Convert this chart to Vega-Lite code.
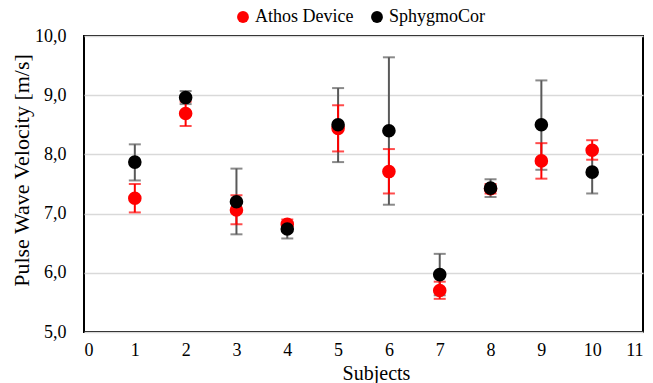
{
  "$schema": "https://vega.github.io/schema/vega-lite/v6.json",
  "width": 559,
  "height": 296,
  "autosize": "none",
  "padding": {"left": 84, "top": 36, "right": 10, "bottom": 51},
  "background": "white",
  "config": {
    "font": "Liberation Serif",
    "view": {"stroke": "black", "strokeWidth": 2},
    "axis": {"labelFont": "Liberation Serif", "titleFont": "Liberation Serif", "labelColor": "black", "titleColor": "black", "labelFontSize": 18, "titleFontSize": 20, "titleFontWeight": "normal", "domain": false, "ticks": false}
  },
  "data": {
    "values": [
      {"subject": 1, "device": "Athos Device", "mean": 7.26, "lo": 7.02, "hi": 7.50},
      {"subject": 1, "device": "SphygmoCor", "mean": 7.87, "lo": 7.56, "hi": 8.17},
      {"subject": 2, "device": "Athos Device", "mean": 8.69, "lo": 8.48, "hi": 8.89},
      {"subject": 2, "device": "SphygmoCor", "mean": 8.96, "lo": 8.85, "hi": 9.07},
      {"subject": 3, "device": "Athos Device", "mean": 7.06, "lo": 6.82, "hi": 7.31},
      {"subject": 3, "device": "SphygmoCor", "mean": 7.20, "lo": 6.65, "hi": 7.76},
      {"subject": 4, "device": "Athos Device", "mean": 6.82, "lo": 6.76, "hi": 6.90},
      {"subject": 4, "device": "SphygmoCor", "mean": 6.74, "lo": 6.58, "hi": 6.86},
      {"subject": 5, "device": "Athos Device", "mean": 8.44, "lo": 8.05, "hi": 8.83},
      {"subject": 5, "device": "SphygmoCor", "mean": 8.50, "lo": 7.87, "hi": 9.12},
      {"subject": 6, "device": "Athos Device", "mean": 7.71, "lo": 7.34, "hi": 8.09},
      {"subject": 6, "device": "SphygmoCor", "mean": 8.40, "lo": 7.15, "hi": 9.64},
      {"subject": 7, "device": "Athos Device", "mean": 5.70, "lo": 5.56, "hi": 5.85},
      {"subject": 7, "device": "SphygmoCor", "mean": 5.97, "lo": 5.62, "hi": 6.32},
      {"subject": 8, "device": "Athos Device", "mean": 7.42, "lo": 7.34, "hi": 7.50},
      {"subject": 8, "device": "SphygmoCor", "mean": 7.43, "lo": 7.28, "hi": 7.58},
      {"subject": 9, "device": "Athos Device", "mean": 7.89, "lo": 7.59, "hi": 8.19},
      {"subject": 9, "device": "SphygmoCor", "mean": 8.50, "lo": 7.74, "hi": 9.25},
      {"subject": 10, "device": "Athos Device", "mean": 8.07, "lo": 7.91, "hi": 8.24},
      {"subject": 10, "device": "SphygmoCor", "mean": 7.70, "lo": 7.34, "hi": 8.06}
    ]
  },
  "encoding": {
    "x": {"field": "subject", "type": "quantitative",
      "scale": {"domain": [0, 11], "nice": false, "zero": false},
      "axis": {"values": [0,1,2,3,4,5,6,7,8,9,10,11], "grid": false, "labelPadding": 9, "title": "Subjects", "titleX": 292, "titleY": 47, "titleBaseline": "alphabetic"}
    }
  },
  "layer": [
    {
      "transform": [{"filter": "datum.device === 'SphygmoCor'"}],
      "mark": {"type": "errorbar", "ticks": {"size": 12, "thickness": 2, "color": "#595959"}, "rule": {"strokeWidth": 2, "color": "#595959"}},
      "encoding": {
        "y": {"field": "lo", "type": "quantitative", "title": "Pulse Wave Velocity [m/s]", "scale": {"domain": [5, 10], "nice": false, "zero": false},
          "axis": {"values": [5,6,7,8,9,10], "grid": true, "gridColor": "#d9d9d9", "gridWidth": 1.5, "labelPadding": 18,
            "labelExpr": "replace(format(datum.value, '.1f'), '.', ',')", "titleFontSize": 22, "titleX": -51, "titleY": 134}},
        "y2": {"field": "hi"}
      }
    },
    {
      "transform": [{"filter": "datum.device === 'Athos Device'"}],
      "mark": {"type": "errorbar", "ticks": {"size": 12, "thickness": 2, "color": "#ff0000"}, "rule": {"strokeWidth": 2, "color": "#ff0000"}},
      "encoding": {
        "y": {"field": "lo", "type": "quantitative", "title": "Pulse Wave Velocity [m/s]"},
        "y2": {"field": "hi"}
      }
    },
    {
      "transform": [{"filter": "datum.device === 'Athos Device'"}],
      "mark": {"type": "circle", "size": 185, "opacity": 1},
      "encoding": {
        "y": {"field": "mean", "type": "quantitative", "title": "Pulse Wave Velocity [m/s]"},
        "color": {"field": "device", "type": "nominal",
          "scale": {"domain": ["Athos Device", "SphygmoCor"], "range": ["#ff0000", "#000000"]},
          "legend": {"title": null, "orient": "none", "direction": "horizontal", "legendX": 150, "legendY": -28,
            "symbolType": "circle", "symbolSize": 140, "symbolStrokeWidth": 0, "labelFont": "Liberation Serif", "labelFontSize": 18, "labelColor": "black", "labelOffset": 3, "columnPadding": 14}}
      }
    },
    {
      "transform": [{"filter": "datum.device === 'SphygmoCor'"}],
      "mark": {"type": "circle", "size": 185, "opacity": 1},
      "encoding": {
        "y": {"field": "mean", "type": "quantitative", "title": "Pulse Wave Velocity [m/s]"},
        "color": {"field": "device", "type": "nominal"}
      }
    }
  ]
}
